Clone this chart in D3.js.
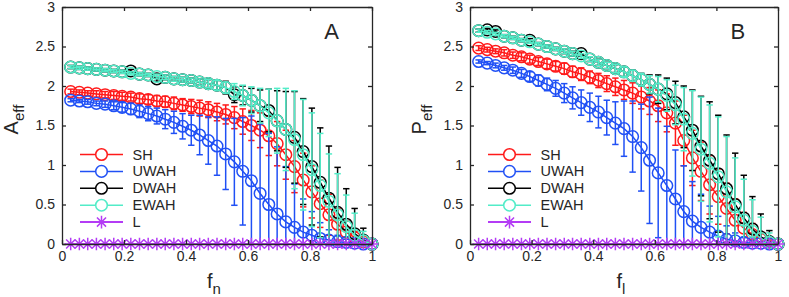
<!DOCTYPE html>
<html>
<head>
<meta charset="utf-8">
<script src="https://cdn.jsdelivr.net/npm/d3@7"></script>
<style>
  body { margin: 0; background: #fff; }
  svg text { font-family: "Liberation Sans", Arial, Helvetica, sans-serif; fill: #262626; }
</style>
</head>
<body>
<svg id="chart" width="789" height="297"></svg>
<script>
// x grid (fraction removed)
var fGrid = [0.028,0.056,0.083,0.111,0.139,0.167,0.194,0.222,0.25,0.278,0.306,0.333,0.361,0.389,0.417,0.444,0.472,0.5,
             0.528,0.556,0.583,0.611,0.639,0.667,0.694,0.722,0.75,0.778,0.806,0.833,0.861,0.889,0.917,0.944,0.972,1.0];

// panel A : A_eff vs f_n
var aSH     = [1.93,1.92,1.91,1.90,1.89,1.88,1.87,1.86,1.84,1.83,1.81,1.80,1.78,1.76,1.74,1.72,1.70,1.67,1.64,1.60,1.55,1.50,1.44,1.37,1.27,1.13,0.98,0.81,0.66,0.51,0.37,0.25,0.15,0.08,0.03,0];
var aSHerr  = [.03,.03,.03,.04,.04,.05,.05,.05,.06,.06,.07,.07,.08,.08,.09,.1,.1,.11,.12,.14,.16,.19,.22,.25,.28,.31,.33,.34,.33,.3,.26,.2,.14,.08,.04,0];
var aUW     = [1.82,1.81,1.80,1.78,1.77,1.75,1.73,1.71,1.68,1.65,1.62,1.58,1.54,1.49,1.44,1.38,1.31,1.24,1.14,1.04,0.92,0.80,0.64,0.50,0.38,0.28,0.21,0.15,0.11,0.07,0.05,0.03,0.02,0.01,0,0];
var aUWerr  = [.02,.02,.03,.03,.04,.05,.06,.07,.08,.09,.1,.12,.14,.16,.19,.25,.3,.37,.45,.55,.68,.82,.88,.9,.85,.7,.55,.42,.3,.2,.13,.08,.04,.02,0,0];
var aDW     = [2.24,2.23,2.22,2.21,2.20,2.19,2.18,2.19,2.15,2.14,2.09,2.11,2.09,2.08,2.07,2.05,2.03,2.01,1.98,1.89,1.88,1.82,1.75,1.69,1.56,1.45,1.35,1.17,0.98,0.78,0.58,0.40,0.25,0.13,0.05,0];
var aDWerr  = [.02,.02,.02,.02,.02,.02,.02,.02,.02,.02,.03,.03,.03,.03,.03,.04,.05,.06,.08,.1,.12,.15,.2,.27,.38,.48,.58,.67,.74,.69,.66,.57,.45,.32,.15,0];
var aEW     = [2.24,2.23,2.22,2.21,2.20,2.19,2.18,2.16,2.15,2.14,2.12,2.11,2.09,2.08,2.07,2.05,2.03,2.01,1.98,1.93,1.88,1.82,1.75,1.66,1.56,1.45,1.32,1.13,0.94,0.74,0.54,0.37,0.22,0.11,0.04,0];
var aEWerr  = [.02,.02,.02,.02,.02,.02,.02,.02,.02,.02,.03,.03,.03,.03,.03,.04,.05,.06,.07,.1,.13,.17,.22,.3,.41,.52,.62,.7,.72,.66,.6,.52,.4,.28,.12,0];

// panel B : P_eff vs f_l
var bSH     = [2.48,2.46,2.44,2.42,2.39,2.37,2.34,2.31,2.28,2.25,2.22,2.18,2.15,2.11,2.07,2.03,1.99,1.95,1.91,1.86,1.81,1.75,1.66,1.53,1.31,1.09,0.92,0.75,0.60,0.45,0.30,0.20,0.12,0.06,0.02,0];
var bSHerr  = [.03,.03,.03,.04,.04,.05,.05,.05,.06,.06,.07,.07,.08,.08,.09,.1,.11,.12,.13,.15,.17,.2,.24,.28,.32,.35,.37,.37,.35,.32,.27,.2,.14,.08,.03,0];
var bUW     = [2.31,2.29,2.26,2.23,2.20,2.16,2.12,2.07,2.02,1.97,1.91,1.85,1.79,1.73,1.67,1.60,1.53,1.46,1.36,1.22,1.06,0.90,0.74,0.57,0.41,0.29,0.21,0.15,0.10,0.06,0.04,0.02,0.01,0.01,0,0];
var bUWerr  = [.02,.02,.03,.03,.04,.05,.06,.07,.08,.1,.12,.14,.16,.18,.2,.22,.27,.35,.45,.55,.8,.82,.75,.62,.58,.5,.42,.33,.25,.17,.1,.06,.03,.02,0,0];
var bDW     = [2.70,2.71,2.69,2.63,2.61,2.58,2.58,2.53,2.50,2.47,2.44,2.41,2.41,2.34,2.30,2.26,2.22,2.18,2.13,2.08,2.02,1.96,1.90,1.79,1.61,1.44,1.24,1.06,0.89,0.70,0.50,0.33,0.19,0.09,0.03,0];
var bDWerr  = [.02,.02,.02,.02,.02,.02,.02,.02,.02,.02,.03,.03,.03,.03,.04,.04,.05,.06,.07,.08,.12,.18,.2,.27,.39,.51,.63,.74,.74,.68,.65,.54,.41,.29,.14,0];
var bEW     = [2.70,2.68,2.66,2.63,2.61,2.58,2.56,2.53,2.50,2.47,2.44,2.41,2.38,2.34,2.30,2.26,2.22,2.18,2.13,2.08,2.02,1.96,1.88,1.76,1.58,1.40,1.20,1.02,0.85,0.66,0.47,0.30,0.16,0.07,0.02,0];
var bEWerr  = [.02,.02,.02,.02,.02,.02,.02,.02,.02,.02,.03,.03,.03,.03,.04,.04,.05,.06,.07,.08,.11,.16,.2,.25,.4,.54,.66,.74,.76,.7,.62,.52,.4,.27,.12,0];

// L sits on zero for every f
var lineL   = [0,0,0,0,0,0,0,0,0,0,0,0,0,0,0,0,0,0,0,0,0,0,0,0,0,0,0,0,0,0,0,0,0,0,0,0];

var seriesNames  = ['SH','UWAH','DWAH','EWAH','L'];
var seriesColors = ['#ff1a1a','#2050f5','#000000','#52ecc8','#b43cf5'];
var xTicks = [0,0.2,0.4,0.6,0.8,1];
var yTicks = [0,0.5,1,1.5,2,2.5,3];

var svg = d3.select('#chart');

drawPanel({left: 62, right: 372, top: 7, bottom: 244, tag: 'A', ylab: 'A', xsub: 'n', id: 'pa',
           ys: [aSH, aUW, aDW, aEW, lineL], es: [aSHerr, aUWerr, aDWerr, aEWerr, null]});
drawPanel({left: 470, right: 778, top: 7, bottom: 244, tag: 'B', ylab: 'P', xsub: 'l', id: 'pb',
           ys: [bSH, bUW, bDW, bEW, lineL], es: [bSHerr, bUWerr, bDWerr, bEWerr, null]});

function starPath(r) {
	var k = r*0.72;
	return 'M'+(-r)+',0H'+r+'M0,'+(-r)+'V'+r+
	       'M'+(-k)+','+(-k)+'L'+k+','+k+'M'+(-k)+','+k+'L'+k+','+(-k);
}

function drawPanel(p) {
	var x = d3.scaleLinear().domain([0,1]).range([p.left, p.right]);
	var y = d3.scaleLinear().domain([0,3]).range([p.bottom, p.top]);
	var g = svg.append('g');

	//clip for lines and bars
	svg.append('clipPath').attr('id', 'clip_'+p.id)
		.append('rect').attr('x', p.left).attr('y', p.top)
		.attr('width', p.right-p.left).attr('height', p.bottom-p.top);

	var line = d3.line().x((d,i) => x(fGrid[i])).y(d => y(d));
	var cap = 3.2;

	p.ys.forEach(function(vals, s) {
		var col = seriesColors[s];
		var sg = g.append('g');
		var cg = sg.append('g').attr('clip-path', 'url(#clip_'+p.id+')');
		var errs = p.es[s];
		if(errs) {
			var bars = cg.selectAll('g.eb').data(vals).enter().append('g')
				.style('stroke', col).style('stroke-width', 1.5);
			bars.append('line')
				.attr('x1', (d,i) => x(fGrid[i])).attr('x2', (d,i) => x(fGrid[i]))
				.attr('y1', (d,i) => y(d-errs[i])).attr('y2', (d,i) => y(d+errs[i]));
			bars.append('line')
				.attr('x1', (d,i) => x(fGrid[i])-cap).attr('x2', (d,i) => x(fGrid[i])+cap)
				.attr('y1', (d,i) => y(d+errs[i])).attr('y2', (d,i) => y(d+errs[i]));
			bars.append('line')
				.attr('x1', (d,i) => x(fGrid[i])-cap).attr('x2', (d,i) => x(fGrid[i])+cap)
				.attr('y1', (d,i) => y(d-errs[i])).attr('y2', (d,i) => y(d-errs[i]));
		}
		cg.append('path').attr('d', line(vals))
			.style('fill', 'none').style('stroke', col).style('stroke-width', s < 4 ? 1.5 : 2);

		if(s < 4) {
			sg.selectAll('circle').data(vals).enter().append('circle')
				.attr('cx', (d,i) => x(fGrid[i])).attr('cy', d => y(d)).attr('r', 5.8)
				.style('fill', 'none').style('stroke', col).style('stroke-width', 1.5);
		} else {
			sg.selectAll('path.star').data(vals).enter().append('path')
				.attr('class', 'star')
				.attr('transform', (d,i) => 'translate('+x(fGrid[i])+','+y(d)+')')
				.attr('d', starPath(6.3))
				.style('fill', 'none').style('stroke', col).style('stroke-width', 1.5);
		}
	});

	//axes, ticks pointing inward on all four sides
	var fmt = d3.format('~g');
	var ax = g.append('g').attr('class', 'axes');
	ax.append('g').attr('transform', 'translate(0,'+p.bottom+')')
		.call(d3.axisBottom(x).tickValues(xTicks).tickFormat(fmt).tickSizeInner(-4).tickSizeOuter(0).tickPadding(7));
	ax.append('g').attr('transform', 'translate(0,'+p.top+')')
		.call(d3.axisTop(x).tickValues(xTicks).tickFormat('').tickSizeInner(-4).tickSizeOuter(0));
	ax.append('g').attr('transform', 'translate('+p.left+',0)')
		.call(d3.axisLeft(y).tickValues(yTicks).tickFormat(fmt).tickSizeInner(-4).tickSizeOuter(0).tickPadding(7));
	ax.append('g').attr('transform', 'translate('+p.right+',0)')
		.call(d3.axisRight(y).tickValues(yTicks).tickFormat('').tickSizeInner(-4).tickSizeOuter(0));
	ax.selectAll('.domain').style('stroke', '#262626').style('stroke-width', 1.3);
	ax.selectAll('.tick line').style('stroke', '#262626').style('stroke-width', 1.3);
	ax.selectAll('.tick text').style('fill', '#262626').style('font-size', '14px')
		.style('font-family', '"Liberation Sans", Arial, sans-serif');

	//panel tag
	g.append('text').attr('x', x(0.87)).attr('y', y(2.6))
		.style('font-size', '22px').style('text-anchor', 'middle').text(p.tag);

	//axis labels
	var xl = g.append('text').attr('x', (p.left+p.right)/2 - 3).attr('y', 288)
		.style('font-size', '20px').style('text-anchor', 'middle');
	xl.append('tspan').text('f');
	xl.append('tspan').attr('dy', 6).style('font-size', '15px').text(p.xsub);

	var yl = g.append('text')
		.attr('transform', 'translate('+(p.left-44)+','+((p.top+p.bottom)/2-6)+') rotate(-90)')
		.style('font-size', '20px').style('text-anchor', 'middle');
	yl.append('tspan').text(p.ylab);
	yl.append('tspan').attr('dy', 6).style('font-size', '15px').text('eff');

	//legend
	var lg = g.append('g');
	seriesNames.forEach(function(name, s) {
		var ry = 154.5 + s*16.9;
		var col = seriesColors[s];
		lg.append('line').attr('x1', p.left+18).attr('x2', p.left+61).attr('y1', ry).attr('y2', ry)
			.style('stroke', col).style('stroke-width', s < 4 ? 1.5 : 2);
		if(s < 4) {
			lg.append('circle').attr('cx', p.left+39.5).attr('cy', ry).attr('r', 5.8)
				.style('fill', '#fff').style('stroke', col).style('stroke-width', 1.5);
		} else {
			lg.append('path').attr('transform', 'translate('+(p.left+39.5)+','+ry+')')
				.attr('d', starPath(6.3)).style('fill', 'none').style('stroke', col).style('stroke-width', 1.5);
		}
		lg.append('text').attr('x', p.left+70.5).attr('y', ry+5)
			.style('font-size', '14.5px').text(name);
	});
}
</script>
</body>
</html>
